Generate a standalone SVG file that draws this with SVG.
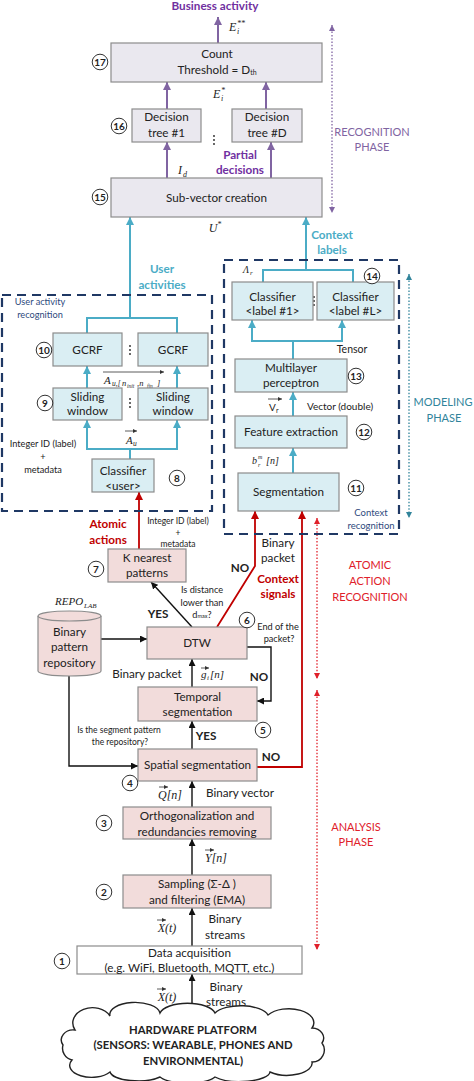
<svg xmlns="http://www.w3.org/2000/svg" width="474" height="1081" viewBox="0 0 474 1081">
<defs>
<style>
text{font-family:Lato,"Liberation Sans","DejaVu Sans",sans-serif;font-size:11.7px;fill:#222}
.c{text-anchor:middle}
.b{font-weight:bold}
.s{font-size:9.2px}
.ph{font-size:11px}
.m{font-family:"Liberation Serif","DejaVu Serif",serif;font-style:italic;font-size:12px}
.pink{fill:#F2DCDB;stroke:#8C8C8C;stroke-width:1.2}
.blue{fill:#DAEEF3;stroke:#8C8C8C;stroke-width:1.2}
.lav{fill:#EAE8EF;stroke:#8C8C8C;stroke-width:1.2}
.wht{fill:#fff;stroke:#8C8C8C;stroke-width:1.2}
.num circle{fill:#fff;stroke:#333;stroke-width:1}
.num text{font-weight:bold;font-size:10px;text-anchor:middle}
.k{fill:none;stroke:#111;stroke-width:1.4}
.r{fill:none;stroke:#C00000;stroke-width:1.8}
.tl{fill:none;stroke:#4BACC6;stroke-width:2}
.pu{fill:none;stroke:#8064A2;stroke-width:2}
.dash{fill:none;stroke:#1F3864;stroke-width:2.2;stroke-dasharray:9,6}
.dot{fill:none;stroke-width:1.3;stroke-dasharray:1.5,1.8}
.dots circle{fill:#222}
.purple{fill:#7030A0}
.red{fill:#C00000}
.teal{fill:#4BACC6}
.navy{fill:#2E4A7D}
</style>
<marker id="ak" viewBox="0 0 10 10" refX="10" refY="5" markerWidth="7" markerHeight="7" markerUnits="userSpaceOnUse" orient="auto-start-reverse"><path d="M0,0 L10,5 L0,10 z" fill="#111"/></marker>
<marker id="ar" viewBox="0 0 10 10" refX="10" refY="5" markerWidth="8" markerHeight="8" markerUnits="userSpaceOnUse" orient="auto-start-reverse"><path d="M0,0 L10,5 L0,10 z" fill="#C00000"/></marker>
<marker id="at" viewBox="0 0 10 10" refX="10" refY="5" markerWidth="8" markerHeight="8" markerUnits="userSpaceOnUse" orient="auto-start-reverse"><path d="M0,0 L10,5 L0,10 z" fill="#4BACC6"/></marker>
<marker id="ap" viewBox="0 0 10 10" refX="10" refY="5" markerWidth="8" markerHeight="8" markerUnits="userSpaceOnUse" orient="auto-start-reverse"><path d="M0,0 L10,5 L0,10 z" fill="#8064A2"/></marker>
<marker id="dr" viewBox="0 0 10 10" refX="10" refY="5" markerWidth="6" markerHeight="6" markerUnits="userSpaceOnUse" orient="auto-start-reverse"><path d="M0,0 L10,5 L0,10 z" fill="#E0202A"/></marker>
<marker id="dt" viewBox="0 0 10 10" refX="10" refY="5" markerWidth="6" markerHeight="6" markerUnits="userSpaceOnUse" orient="auto-start-reverse"><path d="M0,0 L10,5 L0,10 z" fill="#31849B"/></marker>
<marker id="dp" viewBox="0 0 10 10" refX="10" refY="5" markerWidth="6" markerHeight="6" markerUnits="userSpaceOnUse" orient="auto-start-reverse"><path d="M0,0 L10,5 L0,10 z" fill="#8064A2"/></marker>
<marker id="va" viewBox="0 0 10 10" refX="10" refY="5" markerWidth="4" markerHeight="4" markerUnits="userSpaceOnUse" orient="auto"><path d="M0,0 L10,5 L0,10 z" fill="#333"/></marker>
<filter id="sh" x="-50%" y="-50%" width="200%" height="200%"><feGaussianBlur stdDeviation="3"/></filter>
</defs>
<rect width="474" height="1081" fill="#fff"/>

<!-- connectors -->
<g id="connectors">
  <line class="pu" x1="218" y1="43" x2="218" y2="17" marker-end="url(#ap)"/>
  <line class="pu" x1="167" y1="109" x2="167" y2="82" marker-end="url(#ap)"/>
  <line class="pu" x1="266" y1="109" x2="266" y2="82" marker-end="url(#ap)"/>
  <line class="pu" x1="167" y1="178" x2="167" y2="142" marker-end="url(#ap)"/>
  <line class="pu" x1="271" y1="178" x2="271" y2="142" marker-end="url(#ap)"/>
  <line class="tl" x1="130" y1="318" x2="130" y2="217" marker-end="url(#at)"/>
  <polyline class="tl" points="87,333 87,318 177,318 177,333"/>
  <line class="tl" x1="87" y1="388" x2="87" y2="366" marker-end="url(#at)"/>
  <line class="tl" x1="177" y1="388" x2="177" y2="366" marker-end="url(#at)"/>
  <line class="tl" x1="130" y1="459" x2="130" y2="449"/>
  <polyline class="tl" points="87,420 87,449 177,449 177,420" marker-start="url(#at)" marker-end="url(#at)"/>
  <line class="tl" x1="306" y1="270" x2="306" y2="217" marker-end="url(#at)"/>
  <polyline class="tl" points="263,282 263,270 353,270 353,282"/>
  <line class="tl" x1="293" y1="359" x2="293" y2="341"/>
  <polyline class="tl" points="252,320 252,341 342,341 342,320" marker-start="url(#at)" marker-end="url(#at)"/>
  <line class="tl" x1="293" y1="416" x2="293" y2="392" marker-end="url(#at)"/>
  <line class="tl" x1="293" y1="473" x2="293" y2="448" marker-end="url(#at)"/>
  <line class="r" x1="139" y1="549" x2="139" y2="492" marker-end="url(#ar)"/>
  <polyline class="r" points="217,627 255,566 255,511" marker-end="url(#ar)"/>
  <polyline class="r" points="257,767 302,767 302,511" marker-end="url(#ar)"/>
  <line class="k" x1="192" y1="627" x2="151" y2="582" marker-end="url(#ak)"/>
  <line class="k" x1="101" y1="639" x2="147" y2="639" marker-end="url(#ak)"/>
  <polyline class="k" points="69,676 69,766 138,766" marker-end="url(#ak)"/>
  <polyline class="k" points="247,647 271,647 271,701 257,701" marker-end="url(#ak)"/>
  <line class="k" x1="192" y1="687" x2="192" y2="659" marker-end="url(#ak)"/>
  <line class="k" x1="192" y1="749" x2="192" y2="721" marker-end="url(#ak)"/>
  <line class="k" x1="192" y1="807" x2="192" y2="781" marker-end="url(#ak)"/>
  <line class="k" x1="192" y1="875" x2="192" y2="839" marker-end="url(#ak)"/>
  <line class="k" x1="192" y1="946" x2="192" y2="908" marker-end="url(#ak)"/>
  <line class="k" x1="192" y1="1012" x2="192" y2="974" marker-end="url(#ak)"/>
</g>

<!-- phase indicators -->
<g id="phases">
  <line class="dot" stroke="#8064A2" x1="332" y1="25" x2="332" y2="213" marker-start="url(#dp)" marker-end="url(#dp)"/>
  <text x="372" y="136" class="c ph" style="fill:#8064A2">RECOGNITION</text>
  <text x="372" y="151" class="c ph" style="fill:#8064A2">PHASE</text>
  <line class="dot" stroke="#31849B" x1="409" y1="274" x2="409" y2="518" marker-start="url(#dt)" marker-end="url(#dt)"/>
  <text x="443" y="406" class="c ph" style="fill:#31849B">MODELING</text>
  <text x="444" y="422" class="c ph" style="fill:#31849B">PHASE</text>
  <line class="dot" stroke="#E0202A" x1="317" y1="518" x2="317" y2="679" marker-start="url(#dr)" marker-end="url(#dr)"/>
  <line class="dot" stroke="#E0202A" x1="317" y1="690" x2="317" y2="950" marker-start="url(#dr)" marker-end="url(#dr)"/>
  <text x="370" y="569" class="c ph" style="fill:#E0202A">ATOMIC</text>
  <text x="370" y="585" class="c ph" style="fill:#E0202A">ACTION</text>
  <text x="370" y="601" class="c ph" style="fill:#E0202A">RECOGNITION</text>
  <text x="356" y="831" class="c ph" style="fill:#E0202A">ANALYSIS</text>
  <text x="356" y="846" class="c ph" style="fill:#E0202A">PHASE</text>
</g>

<!-- dashed containers -->
<g id="user-activity-recognition">
  <rect class="dash" x="2" y="295" width="210" height="216"/>
  <text x="40" y="305" class="c s navy">User activity</text>
  <text x="40" y="318" class="c s navy">recognition</text>
</g>
<g id="context-recognition">
  <rect class="dash" x="224" y="260" width="175" height="274"/>
  <text x="371" y="516" class="c s navy" style="font-size:9.5px">Context</text>
  <text x="371" y="529" class="c s navy" style="font-size:9.5px">recognition</text>
</g>

<!-- labels -->
<g id="labels">
  <text x="215" y="10" class="c b purple">Business activity</text>
  <text x="229" y="31" class="m">E</text><text x="237" y="26" class="m" style="font-size:8px">**</text><text x="237" y="34" class="m" style="font-size:8px">i</text>
  <text x="213" y="98" class="m">E</text><text x="221" y="93" class="m" style="font-size:8px">*</text><text x="221" y="101" class="m" style="font-size:8px">i</text>
  <text x="178" y="174" class="m">I</text><text x="183" y="177" class="m" style="font-size:8px">d</text>
  <text x="240" y="159" class="c b purple">Partial</text>
  <text x="240" y="174" class="c b purple">decisions</text>
  <text x="215" y="232" class="m c">U<tspan style="font-size:8px" dy="-5">*</tspan></text>
  <text x="332" y="239" class="c b teal">Context</text>
  <text x="332" y="254" class="c b teal">labels</text>
  <text x="162" y="273" class="c b teal">User</text>
  <text x="162" y="289" class="c b teal">activities</text>
  <g class="dots"><circle cx="214" cy="136" r="0.9"/><circle cx="214" cy="140" r="0.9"/><circle cx="214" cy="144" r="0.9"/></g>
  <g class="dots"><circle cx="130" cy="346" r="0.9"/><circle cx="130" cy="350" r="0.9"/><circle cx="130" cy="354" r="0.9"/></g>
  <g class="dots"><circle cx="130" cy="399" r="0.9"/><circle cx="130" cy="403" r="0.9"/><circle cx="130" cy="407" r="0.9"/></g>
  <line x1="103" y1="372" x2="164" y2="372" stroke="#333" stroke-width="0.8" marker-end="url(#va)"/>
  <text x="104" y="384" class="m" style="font-size:11px">A</text>
  <text x="112" y="386" class="m" style="font-size:7.5px">u,[</text>
  <text x="122" y="386" class="m" style="font-size:8.5px">n</text>
  <text x="127" y="388" class="m" style="font-size:5.5px">init</text>
  <text x="137" y="386" class="m" style="font-size:8.5px">,n</text>
  <text x="147" y="388" class="m" style="font-size:5.5px">fin</text>
  <text x="157" y="386" class="m" style="font-size:8.5px">]</text>
  <line x1="125" y1="431" x2="137" y2="431" stroke="#333" stroke-width="0.8" marker-end="url(#va)"/>
  <text x="126" y="444" class="m" style="font-size:11px">A</text><text x="133" y="446" class="m" style="font-size:7.5px">u</text>
  <text x="43" y="447" class="c s">Integer ID (label)</text>
  <text x="43" y="460" class="c s">+</text>
  <text x="43" y="473" class="c s">metadata</text>
  <text x="243" y="273" class="m" style="font-size:10px">Λ</text><text x="250" y="275" class="m" style="font-size:7px">r</text>
  <g class="dots"><circle cx="314" cy="297" r="0.9"/><circle cx="314" cy="301" r="0.9"/><circle cx="314" cy="305" r="0.9"/></g>
  <text x="352" y="353" class="c" style="font-size:10.5px">Tensor</text>
  <line x1="268" y1="399" x2="282" y2="399" stroke="#333" stroke-width="0.8" marker-end="url(#va)"/>
  <text x="269" y="411" style="font-size:10px">V</text><text x="276" y="413" style="font-size:7px">r</text>
  <text x="340" y="410" class="c" style="font-size:10px">Vector (double)</text>
  <text x="252" y="464" class="m" style="font-size:10px">b</text><text x="258" y="459" class="m" style="font-size:6px">m</text><text x="258" y="467" class="m" style="font-size:6px">r</text><text x="266" y="464" class="m" style="font-size:10px">[n]</text>
  <text x="108" y="528" class="c b red">Atomic</text>
  <text x="108" y="544" class="c b red">actions</text>
  <text x="178" y="524" class="c s" style="font-size:8.5px">Integer ID (label)</text>
  <text x="178" y="536" class="c s" style="font-size:8.5px">+</text>
  <text x="178" y="547" class="c s" style="font-size:8.5px">metadata</text>
  <text x="240" y="572" class="c b">NO</text>
  <text x="278" y="547" class="c">Binary</text>
  <text x="278" y="562" class="c">packet</text>
  <text x="278" y="583" class="c b red">Context</text>
  <text x="278" y="598" class="c b red">signals</text>
  <text x="202" y="593" class="c s">Is distance</text>
  <text x="202" y="606" class="c s">lower than</text>
  <text x="202" y="618" class="c s">d<tspan style="font-size:5.5px">max</tspan>?</text>
  <text x="158" y="618" class="c b">YES</text>
  <text x="278" y="630" class="c s">End of the</text>
  <text x="279" y="642" class="c s">packet?</text>
  <text x="55" y="605" class="m" style="font-size:11px">REPO</text><text x="84" y="608" class="m" style="font-size:7px">LAB</text>
  <text x="147" y="678" class="c">Binary packet</text>
  <line x1="201" y1="668" x2="209" y2="668" stroke="#333" stroke-width="0.8" marker-end="url(#va)"/>
  <text x="201" y="678" class="m" style="font-size:11px">g</text><text x="207" y="680" class="m" style="font-size:7px">i</text><text x="210" y="678" class="m" style="font-size:11px">[n]</text>
  <text x="259" y="681" class="c b">NO</text>
  <text x="119" y="733" class="c s" style="font-size:8.5px">Is the segment pattern</text>
  <text x="120" y="745" class="c s" style="font-size:8.5px">the repository?</text>
  <text x="206" y="740" class="c b">YES</text>
  <text x="271" y="761" class="c b">NO</text>
  <line x1="159" y1="787" x2="168" y2="787" stroke="#333" stroke-width="0.8" marker-end="url(#va)"/>
  <text x="170" y="799" class="m c">Q[n]</text>
  <text x="240" y="797" class="c">Binary vector</text>
  <line x1="205" y1="850" x2="214" y2="850" stroke="#333" stroke-width="0.8" marker-end="url(#va)"/>
  <text x="216" y="862" class="m c">Y[n]</text>
  <line x1="157" y1="920" x2="166" y2="920" stroke="#333" stroke-width="0.8" marker-end="url(#va)"/>
  <text x="167" y="932" class="m c">X(t)</text>
  <text x="225" y="923" class="c">Binary</text>
  <text x="225" y="939" class="c">streams</text>
  <line x1="157" y1="989" x2="166" y2="989" stroke="#333" stroke-width="0.8" marker-end="url(#va)"/>
  <text x="167" y="1001" class="m c">X(t)</text>
  <text x="226" y="991" class="c">Binary</text>
  <text x="226" y="1006" class="c">streams</text>
</g>

<!-- nodes -->
<g id="n17"><rect class="lav" x="111" y="43" width="211" height="39"/><text x="217" y="58" class="c">Count</text><text x="217" y="74" class="c">Threshold = D<tspan style="font-size:7px" dy="1">th</tspan></text></g>
<g id="n16a"><rect class="lav" x="132" y="109" width="69" height="33"/><text x="166.5" y="121" class="c">Decision</text><text x="166.5" y="137" class="c">tree #1</text></g>
<g id="n16b"><rect class="lav" x="232" y="109" width="70" height="33"/><text x="267" y="121" class="c">Decision</text><text x="267" y="137" class="c">tree #D</text></g>
<g id="n15"><rect class="lav" x="111" y="178" width="211" height="39"/><text x="216.5" y="202" class="c">Sub-vector creation</text></g>
<g id="n10a"><rect class="blue" x="53" y="333" width="69" height="33"/><text x="87.5" y="354" class="c">GCRF</text></g>
<g id="n10b"><rect class="blue" x="138" y="333" width="70" height="33"/><text x="173" y="354" class="c">GCRF</text></g>
<g id="n9a"><rect class="blue" x="53" y="388" width="69" height="32"/><text x="87.5" y="401" class="c">Sliding</text><text x="87.5" y="415" class="c">window</text></g>
<g id="n9b"><rect class="blue" x="138" y="388" width="70" height="32"/><text x="173" y="401" class="c">Sliding</text><text x="173" y="415" class="c">window</text></g>
<g id="n8"><rect class="blue" x="92" y="459" width="62" height="33"/><text x="123" y="475" class="c">Classifier</text><text x="123" y="490" class="c">&lt;user&gt;</text></g>
<g id="n14a"><rect class="blue" x="232" y="282" width="81" height="38"/><text x="272.5" y="301" class="c">Classifier</text><text x="272.5" y="315" class="c">&lt;label #1&gt;</text></g>
<g id="n14b"><rect class="blue" x="317" y="282" width="77" height="38"/><text x="355.5" y="301" class="c">Classifier</text><text x="355.5" y="315" class="c">&lt;label #L&gt;</text></g>
<g id="n13"><rect class="blue" x="235" y="359" width="112" height="33"/><text x="291" y="372" class="c">Multilayer</text><text x="291" y="387" class="c">perceptron</text></g>
<g id="n12"><rect class="blue" x="235" y="416" width="112" height="32"/><text x="291" y="436" class="c">Feature extraction</text></g>
<g id="n11"><rect class="blue" x="238" y="473" width="101" height="38"/><text x="288.5" y="496" class="c">Segmentation</text></g>
<g id="n7"><rect class="pink" x="108" y="549" width="78" height="33"/><text x="147" y="562" class="c">K nearest</text><text x="147" y="577" class="c">patterns</text></g>
<g id="repo">
  <path class="pink" d="M38,616 A31.5,5 0 0 1 101,616 L101,671 A31.5,5 0 0 1 38,671 Z"/>
  <path d="M38,616 A31.5,5 0 0 0 101,616" fill="none" stroke="#8C8C8C" stroke-width="1.2"/>
  <text x="69.5" y="636" class="c">Binary</text><text x="69.5" y="651" class="c">pattern</text><text x="69.5" y="667" class="c">repository</text>
</g>
<g id="n6"><rect class="pink" x="147" y="627" width="100" height="32"/><text x="197" y="647" class="c">DTW</text></g>
<g id="n5"><rect class="pink" x="138" y="687" width="119" height="34"/><text x="197.5" y="701" class="c">Temporal</text><text x="197.5" y="716" class="c">segmentation</text></g>
<g id="n4"><rect class="pink" x="138" y="749" width="119" height="32"/><text x="197.5" y="769" class="c">Spatial segmentation</text></g>
<g id="n3"><rect class="pink" x="123" y="807" width="148" height="32"/><text x="197" y="820" class="c">Orthogonalization and</text><text x="197" y="836" class="c">redundancies removing</text></g>
<g id="n2"><rect class="pink" x="123" y="875" width="148" height="33"/><text x="197" y="888" class="c">Sampling (Σ-Δ )</text><text x="197" y="904" class="c">and filtering (EMA)</text></g>
<g id="n1"><rect class="wht" x="77" y="946" width="225" height="28"/><text x="189.5" y="957" class="c">Data acquisition</text><text x="189.5" y="972" class="c">(e.g. WiFi, Bluetooth, MQTT, etc.)</text></g>
<g id="hw">
  <ellipse cx="190" cy="1076" rx="22" ry="4" fill="#444" filter="url(#sh)"/>
  <path d="M75,1030 A18,14 0 0 1 110,1016 A25,12 0 0 1 160,1013 A28,12 0 0 1 215,1013 A28,12 0 0 1 268,1015 A25,14 0 0 1 312,1028 A12,10 0 0 1 322,1043 A12,12 0 0 1 312,1062 A25,12 0 0 1 270,1072 A30,10 0 0 1 215,1077 A30,10 0 0 1 160,1077 A28,10 0 0 1 110,1072 A22,12 0 0 1 72,1060 A12,12 0 0 1 63,1045 A12,10 0 0 1 75,1030 Z" fill="#fff" stroke="#222" stroke-width="1.4"/>
  <text x="193" y="1034" class="c b" style="font-size:11.3px">HARDWARE PLATFORM</text>
  <text x="193" y="1049" class="c b" style="font-size:11.3px">(SENSORS: WEARABLE, PHONES AND</text>
  <text x="193" y="1065" class="c b" style="font-size:11.3px">ENVIRONMENTAL)</text>
</g>

<!-- step numbers -->
<g id="numbers" class="num">
  <g><circle cx="100" cy="62" r="7.8"/><text x="100" y="65.5">17</text></g>
  <g><circle cx="119" cy="126" r="7.8"/><text x="119" y="129.5">16</text></g>
  <g><circle cx="100" cy="197" r="7.8"/><text x="100" y="200.5">15</text></g>
  <g><circle cx="44" cy="350" r="7.8"/><text x="44" y="353.5">10</text></g>
  <g><circle cx="45" cy="403" r="7.8"/><text x="45" y="406.5">9</text></g>
  <g><circle cx="177" cy="478" r="7.8"/><text x="177" y="481.5">8</text></g>
  <g><circle cx="372" cy="276" r="7.8"/><text x="372" y="279.5">14</text></g>
  <g><circle cx="356" cy="376" r="7.8"/><text x="356" y="379.5">13</text></g>
  <g><circle cx="364" cy="432" r="7.8"/><text x="364" y="435.5">12</text></g>
  <g><circle cx="356" cy="488" r="7.8"/><text x="356" y="491.5">11</text></g>
  <g><circle cx="96" cy="569" r="7.8"/><text x="96" y="572.5">7</text></g>
  <g><circle cx="247" cy="620" r="7.8"/><text x="247" y="623.5">6</text></g>
  <g><circle cx="263" cy="730" r="7.8"/><text x="263" y="733.5">5</text></g>
  <g><circle cx="130" cy="783" r="7.8"/><text x="130" y="786.5">4</text></g>
  <g><circle cx="104" cy="823" r="7.8"/><text x="104" y="826.5">3</text></g>
  <g><circle cx="104" cy="892" r="7.8"/><text x="104" y="895.5">2</text></g>
  <g><circle cx="62" cy="961" r="7.8"/><text x="62" y="964.5">1</text></g>
</g>
</svg>
